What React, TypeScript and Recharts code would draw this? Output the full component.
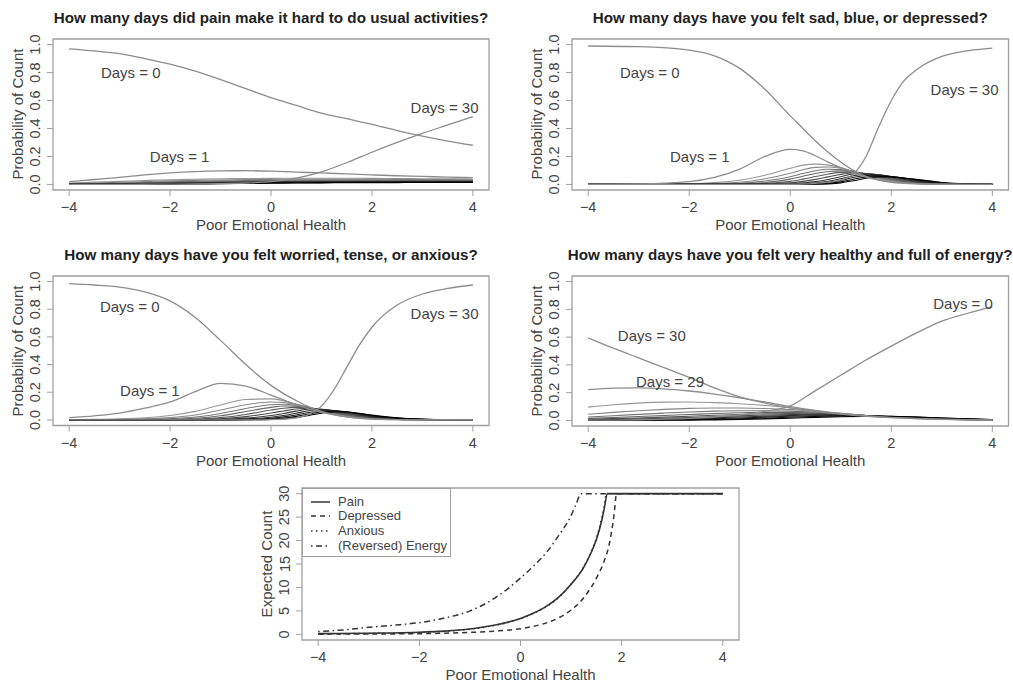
import React from "react";
import { LineChart, Line, XAxis, YAxis, ReferenceArea, ReferenceDot } from "recharts";

// ─── Data ──────────────────────────────────────────────────────────

const xTicks = [-4, -2, 0, 2, 4];
const probTicks = [0, 0.2, 0.4, 0.6, 0.8, 1];
const countTicks = [0, 5, 10, 15, 20, 25, 30];

// Pain panel (and energy panel) share this grid
const xCoarse = [-4, -3.5, -3, -2.5, -2, -1.5, -1, -0.5, 0, 0.5, 1, 1.5, 2, 2.5, 3, 3.5, 4];

const painDay0 = [0.97, 0.955, 0.935, 0.9, 0.86, 0.81, 0.75, 0.685, 0.62, 0.565, 0.51, 0.47, 0.43, 0.385, 0.345, 0.31, 0.28];
const painDay1 = [0.02, 0.035, 0.05, 0.068, 0.082, 0.092, 0.097, 0.098, 0.095, 0.088, 0.082, 0.075, 0.068, 0.062, 0.057, 0.052, 0.048];
const painDay30 = [0, 0, 0, 0.001, 0.002, 0.003, 0.005, 0.01, 0.02, 0.045, 0.09, 0.155, 0.23, 0.3, 0.365, 0.425, 0.485];
const painOther = [
  [0.01, 0.016, 0.022, 0.028, 0.033, 0.037, 0.04, 0.042, 0.043, 0.044, 0.044, 0.044, 0.043, 0.042, 0.041, 0.04, 0.039],
  [0.006, 0.01, 0.015, 0.02, 0.025, 0.029, 0.032, 0.034, 0.036, 0.037, 0.037, 0.037, 0.037, 0.036, 0.035, 0.034, 0.033],
  [0.004, 0.007, 0.01, 0.014, 0.018, 0.022, 0.025, 0.027, 0.029, 0.03, 0.031, 0.031, 0.031, 0.031, 0.03, 0.03, 0.029],
  [0.002, 0.004, 0.007, 0.01, 0.013, 0.016, 0.019, 0.021, 0.023, 0.024, 0.025, 0.026, 0.026, 0.026, 0.026, 0.025, 0.025],
  [0.001, 0.003, 0.005, 0.008, 0.011, 0.013, 0.016, 0.018, 0.02, 0.021, 0.022, 0.023, 0.023, 0.023, 0.023, 0.023, 0.022],
  [0.001, 0.002, 0.004, 0.006, 0.009, 0.011, 0.014, 0.016, 0.018, 0.019, 0.02, 0.021, 0.021, 0.021, 0.021, 0.021, 0.021],
  [0, 0.001, 0.003, 0.005, 0.007, 0.009, 0.012, 0.014, 0.016, 0.017, 0.018, 0.019, 0.019, 0.019, 0.019, 0.019, 0.019],
  [0, 0.001, 0.002, 0.004, 0.006, 0.008, 0.01, 0.012, 0.014, 0.015, 0.016, 0.017, 0.018, 0.018, 0.018, 0.018, 0.018],
  [0, 0, 0.001, 0.002, 0.004, 0.005, 0.007, 0.009, 0.011, 0.012, 0.013, 0.014, 0.015, 0.015, 0.016, 0.016, 0.016],
  [0, 0, 0, 0.001, 0.002, 0.003, 0.005, 0.007, 0.008, 0.01, 0.011, 0.012, 0.013, 0.013, 0.014, 0.014, 0.014],
];

// Sad / blue / depressed
const xSad = [-4, -3, -2, -1.5, -1, -0.5, 0, 0.25, 0.5, 0.75, 1, 1.25, 1.5, 1.75, 2, 2.25, 2.5, 3, 3.5, 4];
const sadDay0 = [0.99, 0.985, 0.96, 0.92, 0.83, 0.68, 0.49, 0.4, 0.31, 0.23, 0.16, 0.1, 0.055, 0.03, 0.015, 0.008, 0.004, 0.001, 0, 0];
const sadDay1 = [0, 0.003, 0.02, 0.05, 0.11, 0.2, 0.25, 0.24, 0.205, 0.16, 0.12, 0.085, 0.055, 0.032, 0.018, 0.01, 0.005, 0.001, 0, 0];
const sadDay30 = [0, 0, 0, 0, 0, 0, 0.001, 0.003, 0.008, 0.016, 0.032, 0.075, 0.2, 0.41, 0.6, 0.74, 0.82, 0.915, 0.955, 0.975];
const sadOther = [
  [0, 0, 0.005, 0.013, 0.03, 0.065, 0.115, 0.138, 0.145, 0.138, 0.12, 0.092, 0.062, 0.038, 0.022, 0.012, 0.006, 0.001, 0, 0],
  [0, 0, 0.002, 0.006, 0.015, 0.04, 0.08, 0.105, 0.122, 0.125, 0.115, 0.093, 0.068, 0.045, 0.027, 0.015, 0.008, 0.002, 0, 0],
  [0, 0, 0.001, 0.003, 0.008, 0.024, 0.055, 0.078, 0.098, 0.108, 0.106, 0.092, 0.072, 0.05, 0.031, 0.018, 0.01, 0.002, 0, 0],
  [0, 0, 0, 0.001, 0.004, 0.014, 0.038, 0.058, 0.078, 0.092, 0.097, 0.09, 0.074, 0.054, 0.035, 0.021, 0.012, 0.003, 0, 0],
  [0, 0, 0, 0, 0.002, 0.007, 0.022, 0.038, 0.056, 0.074, 0.086, 0.087, 0.076, 0.058, 0.04, 0.025, 0.015, 0.004, 0, 0],
  [0, 0, 0, 0, 0.001, 0.003, 0.011, 0.022, 0.036, 0.054, 0.072, 0.082, 0.078, 0.064, 0.046, 0.03, 0.018, 0.005, 0.001, 0],
  [0, 0, 0, 0, 0, 0.001, 0.005, 0.011, 0.02, 0.035, 0.055, 0.074, 0.077, 0.068, 0.052, 0.035, 0.022, 0.006, 0.001, 0],
  [0, 0, 0, 0, 0, 0, 0.002, 0.005, 0.011, 0.022, 0.04, 0.062, 0.071, 0.068, 0.056, 0.04, 0.026, 0.008, 0.002, 0],
  [0, 0, 0, 0, 0, 0, 0.001, 0.002, 0.006, 0.013, 0.028, 0.05, 0.064, 0.065, 0.057, 0.043, 0.03, 0.01, 0.002, 0],
  [0, 0, 0, 0, 0, 0, 0, 0.001, 0.003, 0.008, 0.018, 0.037, 0.054, 0.06, 0.056, 0.045, 0.033, 0.012, 0.003, 0.001],
  [0, 0, 0, 0, 0, 0, 0, 0, 0.001, 0.004, 0.011, 0.026, 0.044, 0.054, 0.054, 0.046, 0.036, 0.014, 0.004, 0.001],
];

// Worried / tense / anxious
const xWorry = [-4, -3.5, -3, -2.5, -2, -1.5, -1, -0.5, 0, 0.25, 0.5, 0.75, 1, 1.25, 1.5, 1.75, 2, 2.5, 3, 3.5, 4];
const worryDay0 = [0.985, 0.975, 0.96, 0.925, 0.86, 0.74, 0.575, 0.4, 0.25, 0.19, 0.14, 0.095, 0.062, 0.038, 0.022, 0.012, 0.007, 0.002, 0, 0, 0];
const worryDay1 = [0.017, 0.03, 0.05, 0.085, 0.13, 0.205, 0.265, 0.245, 0.18, 0.145, 0.11, 0.08, 0.055, 0.036, 0.022, 0.013, 0.008, 0.002, 0, 0, 0];
const worryDay30 = [0, 0, 0, 0, 0, 0, 0, 0, 0.002, 0.006, 0.015, 0.04, 0.1, 0.22, 0.38, 0.54, 0.67, 0.83, 0.91, 0.95, 0.975];
const worryOther = [
  [0.002, 0.004, 0.008, 0.016, 0.032, 0.062, 0.108, 0.148, 0.152, 0.138, 0.115, 0.088, 0.063, 0.042, 0.027, 0.016, 0.009, 0.003, 0.001, 0, 0],
  [0.001, 0.002, 0.004, 0.008, 0.017, 0.036, 0.072, 0.11, 0.13, 0.126, 0.112, 0.09, 0.067, 0.047, 0.031, 0.019, 0.011, 0.003, 0.001, 0, 0],
  [0, 0.001, 0.002, 0.004, 0.009, 0.021, 0.047, 0.083, 0.11, 0.114, 0.106, 0.089, 0.069, 0.05, 0.034, 0.021, 0.013, 0.004, 0.001, 0, 0],
  [0, 0, 0.001, 0.002, 0.005, 0.012, 0.03, 0.061, 0.091, 0.101, 0.1, 0.088, 0.07, 0.052, 0.036, 0.023, 0.014, 0.005, 0.001, 0, 0],
  [0, 0, 0, 0.001, 0.002, 0.006, 0.017, 0.04, 0.072, 0.085, 0.091, 0.087, 0.074, 0.057, 0.04, 0.026, 0.016, 0.006, 0.002, 0, 0],
  [0, 0, 0, 0, 0.001, 0.003, 0.008, 0.024, 0.05, 0.065, 0.079, 0.084, 0.077, 0.062, 0.045, 0.03, 0.019, 0.007, 0.002, 0, 0],
  [0, 0, 0, 0, 0, 0.001, 0.004, 0.013, 0.032, 0.047, 0.064, 0.077, 0.077, 0.066, 0.05, 0.035, 0.022, 0.008, 0.002, 0, 0],
  [0, 0, 0, 0, 0, 0, 0.002, 0.007, 0.02, 0.032, 0.049, 0.066, 0.074, 0.068, 0.055, 0.039, 0.025, 0.01, 0.003, 0.001, 0],
  [0, 0, 0, 0, 0, 0, 0.001, 0.004, 0.012, 0.022, 0.036, 0.054, 0.066, 0.067, 0.058, 0.043, 0.029, 0.012, 0.004, 0.001, 0],
  [0, 0, 0, 0, 0, 0, 0, 0.002, 0.007, 0.014, 0.026, 0.043, 0.058, 0.063, 0.059, 0.046, 0.032, 0.014, 0.005, 0.001, 0],
  [0, 0, 0, 0, 0, 0, 0, 0.001, 0.004, 0.009, 0.018, 0.033, 0.049, 0.057, 0.057, 0.048, 0.035, 0.016, 0.006, 0.002, 0],
];

// Very healthy / full of energy (on xCoarse)
const energyDay0 = [0.002, 0.003, 0.005, 0.009, 0.015, 0.025, 0.04, 0.065, 0.105, 0.215, 0.325, 0.435, 0.535, 0.63, 0.715, 0.77, 0.82];
const energyDay29 = [0.222, 0.233, 0.235, 0.228, 0.212, 0.19, 0.163, 0.133, 0.1, 0.072, 0.05, 0.034, 0.022, 0.014, 0.009, 0.005, 0.003];
const energyDay30 = [0.595, 0.52, 0.45, 0.38, 0.31, 0.235, 0.17, 0.125, 0.09, 0.065, 0.045, 0.03, 0.02, 0.013, 0.008, 0.005, 0.003];
const energyOther = [
  [0.096, 0.113, 0.125, 0.132, 0.133, 0.128, 0.12, 0.108, 0.09, 0.07, 0.051, 0.036, 0.024, 0.015, 0.009, 0.005, 0.003],
  [0.045, 0.058, 0.07, 0.08, 0.087, 0.09, 0.09, 0.086, 0.078, 0.065, 0.05, 0.036, 0.025, 0.016, 0.01, 0.006, 0.003],
  [0.025, 0.034, 0.044, 0.053, 0.061, 0.067, 0.07, 0.07, 0.067, 0.059, 0.048, 0.036, 0.026, 0.017, 0.011, 0.006, 0.003],
  [0.015, 0.021, 0.028, 0.036, 0.043, 0.05, 0.055, 0.058, 0.058, 0.053, 0.045, 0.036, 0.026, 0.018, 0.011, 0.007, 0.004],
  [0.009, 0.013, 0.018, 0.024, 0.03, 0.037, 0.043, 0.048, 0.05, 0.048, 0.043, 0.035, 0.027, 0.019, 0.012, 0.007, 0.004],
  [0.005, 0.008, 0.011, 0.016, 0.021, 0.027, 0.033, 0.039, 0.043, 0.044, 0.041, 0.035, 0.027, 0.02, 0.013, 0.008, 0.004],
  [0.003, 0.005, 0.007, 0.01, 0.014, 0.019, 0.025, 0.031, 0.036, 0.039, 0.039, 0.034, 0.028, 0.021, 0.014, 0.009, 0.005],
  [0.001, 0.002, 0.004, 0.006, 0.009, 0.013, 0.018, 0.024, 0.03, 0.034, 0.036, 0.034, 0.029, 0.022, 0.016, 0.01, 0.005],
  [0, 0.001, 0.002, 0.003, 0.005, 0.008, 0.012, 0.017, 0.023, 0.029, 0.032, 0.032, 0.029, 0.024, 0.017, 0.011, 0.006],
  [0, 0, 0.001, 0.001, 0.002, 0.004, 0.007, 0.011, 0.016, 0.022, 0.027, 0.029, 0.028, 0.024, 0.018, 0.012, 0.007],
];

// Expected count panel
const xPain = [-4, -3, -2, -1.5, -1, -0.5, 0, 0.25, 0.5, 0.75, 1, 1.25, 1.4, 1.5, 1.6, 1.65, 1.72, 2, 3, 4];
const countPain = [0.15, 0.25, 0.45, 0.7, 1.15, 2.0, 3.4, 4.5, 5.9, 7.9, 10.7, 14.3, 17.5, 20.2, 24, 26.5, 30, 30, 30, 30];
const xDep = [-4, -3, -2, -1.5, -1, -0.5, 0, 0.25, 0.5, 0.75, 1, 1.25, 1.5, 1.65, 1.75, 1.85, 1.9, 2, 3, 4];
const countDep = [0.05, 0.08, 0.15, 0.25, 0.42, 0.7, 1.2, 1.7, 2.4, 3.5, 5.2, 7.8, 12.0, 15.5, 19, 25.5, 30, 30, 30, 30];
const xAnx = [-4, -3, -2, -1.5, -1, -0.5, 0, 0.25, 0.5, 0.75, 1, 1.25, 1.4, 1.5, 1.6, 1.65, 1.7, 2, 3, 4];
const countAnx = [0.1, 0.2, 0.4, 0.65, 1.1, 1.95, 3.35, 4.45, 5.85, 7.85, 10.7, 14.4, 17.7, 20.5, 24.5, 27, 30, 30, 30, 30];
const xEnergy = [-4, -3.5, -3, -2.5, -2, -1.5, -1, -0.5, 0, 0.25, 0.5, 0.75, 1, 1.1, 1.2, 1.5, 2, 3, 4];
const countEnergy = [0.6, 0.95, 1.5, 1.95, 2.5, 3.5, 5.0, 7.8, 12.0, 14.5, 17.3, 21, 25.3, 27.8, 30, 30, 30, 30, 30];

const legendNames = ["Pain", "Depressed", "Anxious", "(Reversed) Energy"];

// ─── Helpers ───────────────────────────────────────────────────────

const FONT = '"Liberation Sans", Arial, Helvetica, sans-serif';
const INK = "#444";
const GRAY = "#8c8c8c";
const BOX = "#a0a0a0";

type Pt = { x: number; y: number };
const pts = (xs: number[], ys: number[]): Pt[] => xs.map((x, i) => ({ x, y: ys[i] }));

const fmtX = (v: number) => (v < 0 ? `\u2212${Math.abs(v)}` : `${v}`);
const fmtProb = (v: number) => v.toFixed(1);
const fmtCount = (v: number) => `${v}`;

interface Box { l: number; t: number; r: number; b: number }
interface Series { id: string; data: Pt[]; stroke: string; width: number; dash?: string }
interface Note { x: number; y: number; text: string }

function YTick(props: any) {
  const { x, y, payload, fmt } = props;
  const cx = x - 9.5;
  return (
    <text
      x={cx}
      y={y}
      transform={`rotate(-90 ${cx} ${y})`}
      textAnchor="middle"
      dominantBaseline="central"
      fill={INK}
      fontSize={14.5}
    >
      {fmt(payload.value)}
    </text>
  );
}

// one probability curve set -> series list; the minor day counts get darker
// as they go, and the labelled curves are drawn last, on top
function curveSet(prefix: string, xs: number[], main: number[][], other: number[][]): Series[] {
  const n = other.length;
  const rest = other.map((ys, i) => {
    const lvl = Math.round(150 * (1 - i / (n - 1)));
    return { id: `${prefix}-o${i}`, data: pts(xs, ys), stroke: `rgb(${lvl},${lvl},${lvl})`, width: 1.1 };
  });
  const mains = main.map((ys, i) => ({ id: `${prefix}-m${i}`, data: pts(xs, ys), stroke: GRAY, width: 1.3 }));
  return [...rest, ...mains];
}

// ─── Panel ─────────────────────────────────────────────────────────

function Panel({
  box, title, yLabel, yDomain, yTicks, yFmt, series, notes,
}: {
  box: Box; title?: string; yLabel: string; yDomain: [number, number]; yTicks: number[];
  yFmt: (v: number) => string; series: Series[]; notes: Note[];
}) {
  const YW = 50, MT = 5, MR = 5, XH = 34;
  const w = box.r - box.l;
  const h = box.b - box.t;
  const midY = (box.t + box.b) / 2;
  return (
    <>
      {title && (
        <div style={{ position: "absolute", left: box.l - 30, width: w + 60, top: box.t - 30, height: 18, lineHeight: "18px", textAlign: "center", fontWeight: "bold", fontSize: 15.2, color: "#222", whiteSpace: "nowrap" }}>
          {title}
        </div>
      )}
      <div style={{ position: "absolute", left: box.l - YW, top: box.t - MT }}>
        <LineChart width={YW + w + MR} height={MT + h + XH} margin={{ top: MT, right: MR, bottom: 0, left: 0 }}>
          <ReferenceArea x1={-4.32} x2={4.32} y1={yDomain[0]} y2={yDomain[1]} fill="none" stroke={BOX} strokeWidth={1.3} ifOverflow="visible" />
          <XAxis
            type="number"
            dataKey="x"
            domain={[-4.32, 4.32]}
            ticks={xTicks}
            interval={0}
            allowDataOverflow
            axisLine={false}
            tickSize={6}
            tickMargin={6}
            height={XH}
            tickLine={{ stroke: BOX }}
            tick={{ fill: INK, fontSize: 14.5 }}
            tickFormatter={fmtX}
          />
          <YAxis
            type="number"
            dataKey="y"
            domain={yDomain}
            ticks={yTicks}
            interval={0}
            allowDataOverflow
            width={YW}
            axisLine={false}
            tickSize={6}
            tickLine={{ stroke: BOX }}
            tick={(p: any) => <YTick {...p} fmt={yFmt} />}
          />
          {series.map((s) => (
            <Line
              key={s.id}
              data={s.data}
              dataKey="y"
              type="monotone"
              stroke={s.stroke}
              strokeWidth={s.width}
              strokeDasharray={s.dash}
              dot={false}
              activeDot={false}
              isAnimationActive={false}
            />
          ))}
          {notes.map((n) => (
            <ReferenceDot
              key={n.text}
              x={n.x}
              y={n.y}
              r={0}
              fill="none"
              stroke="none"
              ifOverflow="visible"
              label={{ value: n.text, position: "center", fill: INK, fontSize: 15 }}
            />
          ))}
        </LineChart>
      </div>
      <div style={{ position: "absolute", left: box.l, width: w, top: box.b + 27, height: 15, lineHeight: "15px", textAlign: "center", fontSize: 15, color: INK }}>
        Poor Emotional Health
      </div>
      <div style={{ position: "absolute", left: box.l - 35 - 100, top: midY - 8, width: 200, height: 16, lineHeight: "16px", textAlign: "center", fontSize: 15, color: INK, transform: "rotate(-90deg)", whiteSpace: "nowrap" }}>
        {yLabel}
      </div>
    </>
  );
}

// ─── Legend for the expected-count panel ───────────────────────────

const legendDash = [undefined, "5 4", "1.5 3.5", "1.5 3.5 6 3.5"];

function CountLegend({ left, top }: { left: number; top: number }) {
  return (
    <div style={{ position: "absolute", left, top, width: 149, height: 69, border: `1px solid ${BOX}`, background: "#fff", boxSizing: "border-box" }}>
      {legendNames.map((name, i) => (
        <div key={name} style={{ position: "absolute", left: 0, top: 13 + i * 14.8 - 8, height: 16, width: 147 }}>
          <svg width={24} height={16} style={{ position: "absolute", left: 7, top: 0 }}>
            <line x1={1} x2={20} y1={8} y2={8} stroke="#333" strokeWidth={1.5} strokeDasharray={legendDash[i]} />
          </svg>
          <span style={{ position: "absolute", left: 35, top: 0, lineHeight: "16px", fontSize: 13, color: INK, whiteSpace: "nowrap" }}>{name}</span>
        </div>
      ))}
    </div>
  );
}

// ─── App ───────────────────────────────────────────────────────────

export default function App() {
  const probDomain: [number, number] = [-0.04, 1.04];
  const countDomain: [number, number] = [-1.2, 31.2];
  const ink5 = "#333";

  const countSeries: Series[] = [
    { id: "energy", data: pts(xEnergy, countEnergy), stroke: ink5, width: 1.5, dash: legendDash[3] },
    { id: "dep", data: pts(xDep, countDep), stroke: ink5, width: 1.5, dash: legendDash[1] },
    { id: "anx", data: pts(xAnx, countAnx), stroke: ink5, width: 1.5, dash: legendDash[2] },
    { id: "pain", data: pts(xPain, countPain), stroke: ink5, width: 1.6 },
  ];

  return (
    <div style={{ position: "absolute", left: 0, top: 0, width: 1013, height: 681, overflow: "hidden", background: "#fff", fontFamily: FONT }}>
      <Panel
        box={{ l: 53, t: 38.5, r: 489, b: 189.5 }}
        title="How many days did pain make it hard to do usual activities?"
        yLabel="Probability of Count"
        yDomain={probDomain}
        yTicks={probTicks}
        yFmt={fmtProb}
        series={curveSet("pain", xCoarse, [painDay0, painDay1, painDay30], painOther)}
        notes={[
          { x: -2.78, y: 0.8, text: "Days = 0" },
          { x: -1.81, y: 0.2, text: "Days = 1" },
          { x: 3.44, y: 0.55, text: "Days = 30" },
        ]}
      />
      <Panel
        box={{ l: 572, t: 38.5, r: 1008.5, b: 189.5 }}
        title="How many days have you felt sad, blue, or depressed?"
        yLabel="Probability of Count"
        yDomain={probDomain}
        yTicks={probTicks}
        yFmt={fmtProb}
        series={curveSet("sad", xSad, [sadDay0, sadDay1, sadDay30], sadOther)}
        notes={[
          { x: -2.78, y: 0.8, text: "Days = 0" },
          { x: -1.79, y: 0.2, text: "Days = 1" },
          { x: 3.45, y: 0.68, text: "Days = 30" },
        ]}
      />
      <Panel
        box={{ l: 53, t: 276, r: 489, b: 425.5 }}
        title="How many days have you felt worried, tense, or anxious?"
        yLabel="Probability of Count"
        yDomain={probDomain}
        yTicks={probTicks}
        yFmt={fmtProb}
        series={curveSet("worry", xWorry, [worryDay0, worryDay1, worryDay30], worryOther)}
        notes={[
          { x: -2.8, y: 0.82, text: "Days = 0" },
          { x: -2.4, y: 0.21, text: "Days = 1" },
          { x: 3.44, y: 0.77, text: "Days = 30" },
        ]}
      />
      <Panel
        box={{ l: 572, t: 276, r: 1008.5, b: 426 }}
        title="How many days have you felt very healthy and full of energy?"
        yLabel="Probability of Count"
        yDomain={probDomain}
        yTicks={probTicks}
        yFmt={fmtProb}
        series={curveSet("energy", xCoarse, [energyDay0, energyDay29, energyDay30], energyOther)}
        notes={[
          { x: 3.42, y: 0.84, text: "Days = 0" },
          { x: -2.74, y: 0.61, text: "Days = 30" },
          { x: -2.38, y: 0.28, text: "Days = 29" },
        ]}
      />
      <Panel
        box={{ l: 302, t: 487.5, r: 739, b: 639.5 }}
        yLabel="Expected Count"
        yDomain={countDomain}
        yTicks={countTicks}
        yFmt={fmtCount}
        series={countSeries}
        notes={[]}
      />
      <CountLegend left={302} top={487.5} />
    </div>
  );
}
